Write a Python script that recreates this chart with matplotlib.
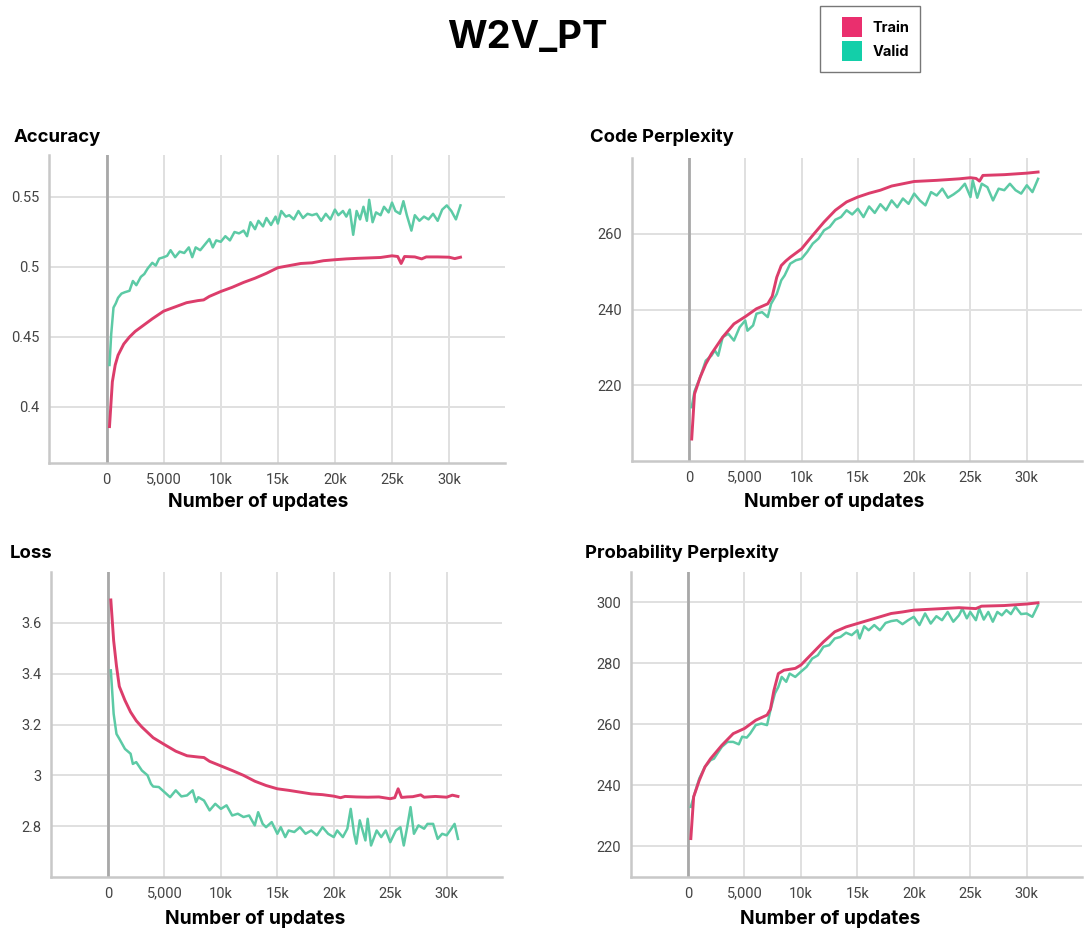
import matplotlib
matplotlib.use("Agg")
import matplotlib.pyplot as plt
from matplotlib.patches import Patch, Rectangle
from matplotlib.legend_handler import HandlerPatch

W, H = 1084, 932
TRAIN_C = "#dc3d6b"
VALID_C = "#5ccaa5"

# ---- Accuracy ----
acc_train_x = [250, 500, 750, 1000, 1500, 2000, 2500, 3000, 3500, 4000, 5000, 6000, 7000, 8000, 8500,
               9000, 10000, 11000, 12000, 13000, 14000, 15000, 16000, 17000, 18000, 19000, 20000, 21000,
               22000, 23000, 24000, 25000, 25500, 25800, 26100, 27000, 27600, 28000, 29000, 30000, 30500, 31000]
acc_train_y = [0.386, 0.418, 0.430, 0.437, 0.445, 0.450, 0.454, 0.457, 0.460, 0.463, 0.4685, 0.4715, 0.4745,
               0.4760, 0.4765, 0.4790, 0.4825, 0.4855, 0.4890, 0.4920, 0.4955, 0.4995, 0.5010, 0.5025, 0.5030,
               0.5045, 0.5052, 0.5058, 0.5062, 0.5065, 0.5068, 0.5080, 0.5075, 0.5025, 0.5075, 0.5072, 0.5058,
               0.5072, 0.5072, 0.5070, 0.5060, 0.5070]
acc_valid_x = [250, 400, 600, 800, 1000, 1300, 1600, 2000, 2300, 2600, 3000, 3300, 3600, 4000, 4300, 4600,
               5000, 5300, 5600, 6000, 6400, 6800, 7200, 7500, 7800, 8200, 8600, 9000, 9300, 9600, 10000,
               10400, 10800, 11200, 11600, 12000, 12300, 12600, 13000, 13300, 13700, 14000, 14400, 14800,
               15000, 15300, 15700, 16000, 16400, 16800, 17200, 17600, 18000, 18400, 18800, 19200, 19600,
               20000, 20300, 20700, 21000, 21300, 21600, 21900, 22200, 22500, 22800, 23000, 23300, 23600,
               24000, 24300, 24700, 25000, 25300, 25700, 26000, 26300, 26700, 27000, 27400, 27800, 28200,
               28600, 29000, 29400, 29800, 30200, 30600, 31000]
acc_valid_y = [0.430, 0.452, 0.471, 0.474, 0.478, 0.481, 0.482, 0.483, 0.490, 0.487, 0.493, 0.495, 0.499,
               0.503, 0.501, 0.506, 0.507, 0.508, 0.512, 0.507, 0.511, 0.510, 0.514, 0.507, 0.514, 0.512,
               0.516, 0.520, 0.514, 0.519, 0.518, 0.522, 0.519, 0.525, 0.524, 0.526, 0.522, 0.532, 0.527,
               0.533, 0.529, 0.535, 0.530, 0.536, 0.531, 0.540, 0.536, 0.537, 0.534, 0.540, 0.535, 0.538,
               0.537, 0.538, 0.533, 0.538, 0.534, 0.541, 0.537, 0.540, 0.536, 0.541, 0.523, 0.540, 0.534,
               0.543, 0.533, 0.548, 0.532, 0.539, 0.537, 0.543, 0.539, 0.546, 0.540, 0.538, 0.547, 0.537,
               0.526, 0.537, 0.533, 0.536, 0.534, 0.538, 0.533, 0.541, 0.544, 0.540, 0.534, 0.544]

# ---- Code Perplexity ----
code_train_x = [250, 500, 1000, 1500, 2000, 2500, 3000, 4000, 5000, 6000, 7000, 7400, 7800, 8200, 8600,
                9000, 10000, 11000, 12000, 13000, 14000, 15000, 16000, 17000, 18000, 19000, 20000, 22000,
                24000, 25000, 25500, 25800, 26100, 28000, 30000, 31000]
code_train_y = [205.8, 217.7, 222.1, 225.6, 228.3, 230.5, 232.7, 236.2, 238.1, 240.2, 241.5, 243.5, 248.5,
                251.6, 252.8, 253.8, 256.0, 259.6, 263.1, 266.2, 268.4, 269.7, 270.7, 271.5, 272.6, 273.2,
                273.8, 274.1, 274.5, 274.8, 274.6, 273.9, 275.4, 275.6, 276.0, 276.3]
code_valid_x = [250, 500, 1000, 1500, 2000, 2300, 2600, 3000, 3500, 4000, 4500, 5000, 5200, 5700, 6000,
                6500, 7000, 7300, 7800, 8200, 8500, 9000, 9500, 10000, 10500, 11000, 11500, 12000, 12500,
                13000, 13500, 14000, 14500, 15000, 15500, 16000, 16500, 17000, 17500, 18000, 18500, 19000,
                19500, 20000, 20500, 21000, 21500, 22000, 22500, 23000, 23500, 24000, 24500, 25000, 25200,
                25600, 26000, 26500, 27000, 27500, 28000, 28500, 29000, 29500, 30000, 30500, 31000]
code_valid_y = [214.2, 218.4, 222.1, 226.5, 227.8, 229.2, 227.8, 232.7, 233.6, 231.8, 235.3, 237.1, 234.4,
                235.8, 238.9, 239.3, 238.0, 241.5, 244.1, 247.7, 249.0, 252.1, 253.0, 253.4, 255.2, 257.4,
                258.7, 260.9, 261.8, 263.7, 264.4, 266.2, 265.1, 266.6, 264.4, 267.2, 265.5, 267.8, 266.2,
                268.8, 267.0, 269.3, 267.9, 270.6, 268.8, 267.5, 271.0, 270.1, 271.9, 269.5, 270.4, 271.5,
                273.2, 269.7, 274.1, 269.5, 273.2, 272.3, 268.8, 271.9, 271.5, 273.2, 271.5, 270.6, 272.8,
                271.0, 274.5]

# ---- Loss ----
loss_train_x = [250, 500, 750, 1000, 1500, 2000, 2500, 3000, 4000, 5000, 6000, 7000, 8000, 8500, 9000,
                10000, 11000, 12000, 13000, 14000, 15000, 16000, 17000, 18000, 19000, 20000, 20600, 21000,
                22000, 23000, 24000, 25000, 25400, 25700, 26000, 26500, 27000, 27700, 28000, 29000, 30000,
                30500, 31000]
loss_train_y = [3.69, 3.53, 3.43, 3.35, 3.295, 3.249, 3.215, 3.19, 3.148, 3.121, 3.095, 3.077, 3.072, 3.070,
                3.055, 3.037, 3.019, 3.0, 2.977, 2.96, 2.947, 2.941, 2.934, 2.927, 2.924, 2.918, 2.912,
                2.917, 2.915, 2.914, 2.915, 2.908, 2.912, 2.947, 2.913, 2.915, 2.916, 2.923, 2.914, 2.917,
                2.914, 2.922, 2.917]
loss_valid_x = [250, 500, 750, 1000, 1500, 2000, 2200, 2500, 3000, 3500, 3800, 4000, 4500, 5000, 5500,
                6000, 6500, 7000, 7500, 7800, 8000, 8500, 9000, 9500, 10000, 10500, 11000, 11500, 12000,
                12500, 13000, 13300, 13700, 14000, 14500, 15000, 15300, 15700, 16000, 16500, 17000, 17500,
                18000, 18500, 19000, 19500, 20000, 20300, 20800, 21200, 21500, 21800, 22000, 22300, 22800,
                23000, 23300, 23800, 24200, 24600, 25000, 25500, 25900, 26200, 26500, 26800, 27100, 27500,
                28000, 28300, 28800, 29200, 29600, 30000, 30300, 30700, 31000]
loss_valid_y = [3.413, 3.242, 3.163, 3.144, 3.104, 3.085, 3.045, 3.052, 3.019, 3.0, 2.967, 2.956, 2.954,
                2.934, 2.914, 2.941, 2.917, 2.921, 2.941, 2.895, 2.914, 2.901, 2.862, 2.888, 2.868, 2.882,
                2.842, 2.849, 2.836, 2.842, 2.803, 2.855, 2.809, 2.796, 2.816, 2.770, 2.796, 2.757, 2.783,
                2.777, 2.796, 2.770, 2.783, 2.764, 2.796, 2.770, 2.757, 2.783, 2.757, 2.790, 2.868, 2.770,
                2.731, 2.823, 2.744, 2.829, 2.724, 2.783, 2.757, 2.783, 2.737, 2.783, 2.796, 2.724, 2.796,
                2.875, 2.770, 2.803, 2.790, 2.809, 2.809, 2.750, 2.770, 2.764, 2.783, 2.809, 2.750]

# ---- Probability Perplexity ----
prob_train_x = [250, 500, 1000, 1500, 2000, 3000, 4000, 5000, 6000, 7000, 7300, 7600, 8000, 8500, 9500,
                10000, 11000, 12000, 13000, 14000, 15000, 16000, 17000, 18000, 19000, 20000, 22000, 24000,
                25500, 26000, 28000, 30000, 31000]
prob_train_y = [222.6, 236.3, 241.7, 246.1, 248.8, 253.2, 257.0, 258.7, 261.4, 263.1, 265.0, 271.0, 276.7,
                277.8, 278.4, 279.5, 283.3, 287.1, 290.4, 292.0, 293.1, 294.2, 295.3, 296.4, 296.9, 297.5,
                297.9, 298.3, 298.0, 298.8, 299.0, 299.5, 299.9]
prob_valid_x = [250, 500, 1000, 1500, 1800, 2000, 2300, 2600, 3000, 3500, 4000, 4500, 4800, 5200, 5500,
                6000, 6500, 7000, 7300, 7700, 8000, 8300, 8700, 9000, 9500, 10000, 10500, 11000, 11500,
                12000, 12500, 13000, 13500, 14000, 14500, 15000, 15200, 15600, 16000, 16500, 17000, 17500,
                18000, 18500, 19000, 19500, 20000, 20500, 21000, 21500, 22000, 22500, 23000, 23500, 24000,
                24300, 24700, 25000, 25500, 25800, 26200, 26600, 27000, 27400, 27800, 28200, 28600, 29000,
                29500, 30000, 30500, 31000]
prob_valid_y = [233.0, 236.3, 242.3, 246.1, 247.4, 248.3, 248.8, 250.5, 252.7, 254.3, 254.3, 253.5, 256.0,
                255.7, 257.0, 259.8, 260.3, 259.8, 264.7, 270.2, 272.3, 275.6, 274.0, 276.7, 275.6, 277.3,
                278.9, 281.6, 282.7, 285.5, 286.0, 288.2, 288.7, 290.1, 289.3, 290.9, 288.2, 292.2, 290.9,
                292.6, 290.9, 293.3, 293.9, 294.2, 292.9, 294.2, 295.3, 292.6, 296.4, 293.1, 295.5, 294.2,
                296.9, 293.7, 295.8, 298.0, 294.8, 296.9, 294.2, 298.0, 294.4, 296.9, 293.7, 296.9, 295.8,
                297.5, 296.2, 298.6, 296.2, 296.4, 295.3, 299.1]

x_ticks = [0, 5000, 10000, 15000, 20000, 25000, 30000]
x_tick_labels = ["0", "5,000", "10k", "15k", "20k", "25k", "30k"]

panels = [
    # title, (left, top, right, bottom) px, title pos, ylim, yticks, ytick labels, data, xlabel pos
    ("Accuracy", (49, 155, 505, 463), (14, 137), (0.36, 0.58), [0.4, 0.45, 0.5, 0.55],
     ["0.4", "0.45", "0.5", "0.55"],
     (acc_train_x, acc_train_y, acc_valid_x, acc_valid_y), (0.458, 30)),
    ("Code Perplexity", (632, 158, 1082, 461), (590, 137), (200, 280), [220, 240, 260],
     ["220", "240", "260"],
     (code_train_x, code_train_y, code_valid_x, code_valid_y), (0.449, 32)),
    ("Loss", (51, 572, 502, 877), (10, 553), (2.6, 3.8), [2.8, 3.0, 3.2, 3.4, 3.6],
     ["2.8", "3", "3.2", "3.4", "3.6"],
     (loss_train_x, loss_train_y, loss_valid_x, loss_valid_y), (0.452, 33)),
    ("Probability Perplexity", (631, 572, 1082, 877), (585, 553), (210, 310), [220, 240, 260, 280, 300],
     ["220", "240", "260", "280", "300"],
     (prob_train_x, prob_train_y, prob_valid_x, prob_valid_y), (0.441, 33)),
]

fig = plt.figure(figsize=(W / 100, H / 100), dpi=100)
fig.patch.set_facecolor("white")

for title, (l, t, r, b), (tx, ty), ylim, yt, ytl, (trx, tr, vax, va), (lx, ly) in panels:
    ax = fig.add_axes([l / W, 1 - b / H, (r - l) / W, (b - t) / H])
    ax.set_xlim(-5050, 34900)
    ax.set_ylim(*ylim)
    ax.set_xticks(x_ticks)
    ax.set_xticklabels(x_tick_labels)
    ax.set_yticks(yt)
    ax.set_yticklabels(ytl)
    ax.grid(True, color="#e0e0e0", lw=1.4)
    ax.set_axisbelow(True)
    for s in ("top", "right"):
        ax.spines[s].set_visible(False)
    for s in ("left", "bottom"):
        ax.spines[s].set_color("#c8c8c8")
        ax.spines[s].set_linewidth(1.8)
    ax.axvline(0, color="#a8a8a8", lw=2, zorder=1)
    ax.tick_params(length=0, labelsize=10.5, labelcolor="#444444", pad=7)
    for lab in ax.get_xticklabels() + ax.get_yticklabels():
        lab.set_family("Roboto")
    ax.plot(vax, va, color=VALID_C, lw=1.8, zorder=3)
    ax.plot(trx, tr, color=TRAIN_C, lw=2.1, zorder=4)
    ax.set_xlabel("Number of updates", fontsize=13.8, fontweight="bold", family="Inter")
    ax.xaxis.set_label_coords(lx, -ly / (b - t))
    fig.text(tx / W, 1 - ty / H, title, fontsize=13.3, fontweight="bold", family="Inter",
             ha="left", va="center")

fig.text(527 / W, 1 - 38 / H, "W2V_PT", fontsize=27.5, fontweight="bold", family="Inter",
         ha="center", va="center")


def square_right(legend, orig_handle, xdescent, ydescent, width, height, fontsize):
    # square swatch pushed to the right end of the handle box
    return Rectangle((-xdescent + width - height, -ydescent), height, height)


handles = [Patch(facecolor="#ea2f6e", edgecolor="none"), Patch(facecolor="#13cfa9", edgecolor="none")]
leg = fig.legend(handles, ["Train", "Valid"], loc="upper left", bbox_to_anchor=(820 / W, 1 - 6 / H),
                 borderaxespad=0, fancybox=False, frameon=True, handlelength=2.1, handleheight=1.7,
                 handletextpad=0.75, labelspacing=0.32, borderpad=0.75,
                 handler_map={Patch: HandlerPatch(patch_func=square_right)},
                 prop={"family": "Inter", "weight": "bold", "size": 10.5})
leg.get_frame().set_edgecolor("#555555")
leg.get_frame().set_linewidth(1.0)

fig.savefig("out.png", dpi=100)
